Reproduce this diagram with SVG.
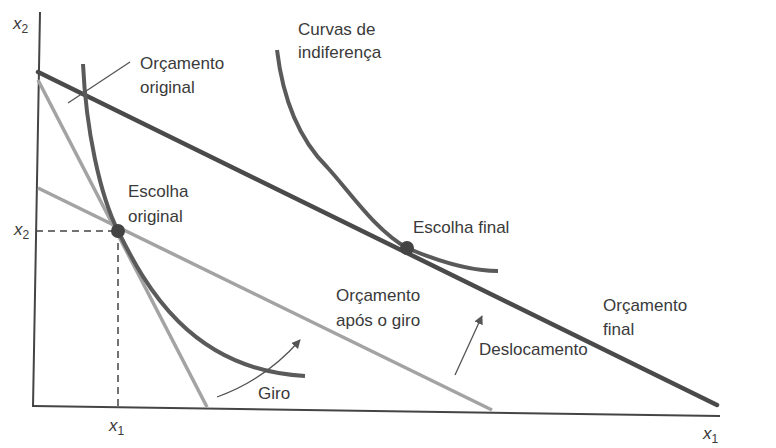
<svg xmlns="http://www.w3.org/2000/svg" width="776" height="448" viewBox="0 0 776 448">
<defs>
<style>
.t{font-family:"Liberation Sans",Arial,sans-serif;font-size:17px;fill:#3a3a3a}
.v{font-family:"Liberation Sans",Arial,sans-serif;font-size:17px;font-style:italic;fill:#3a3a3a}
.sub{font-size:12px;font-style:normal}
.axis{stroke:#444;stroke-width:2;fill:none}
.dark{stroke:#4a4a4a;stroke-width:4.5;fill:none;stroke-linecap:round}
.light{stroke:#a3a3a3;stroke-width:3.5;fill:none}
.ind{stroke:#5a5a5a;stroke-width:4;fill:none}
.thin{stroke:#555;stroke-width:1.3;fill:none}
.dash{stroke:#444;stroke-width:1.5;stroke-dasharray:7,5;fill:none}
</style>
<marker id="ah" viewBox="0 0 10 10" refX="9" refY="5" markerWidth="9" markerHeight="9" orient="auto" markerUnits="userSpaceOnUse">
<path d="M0,0 L10,5 L0,10 z" fill="#555"/>
</marker>
</defs>
<rect width="776" height="448" fill="#fff"/>
<g id="axes">
<path class="axis" d="M40,12 L33,407"/>
<path class="axis" d="M33,406 L720,416"/>
</g>
<g id="connectors">
<path class="light" d="M38,80 L207,407"/>
<path class="light" d="M38,188 L492,410"/>
<path class="dark" d="M38,72 L717,405"/>
<path class="ind" d="M83,64 C86,130 100,195 118,231 C145,285 190,370 305,376"/>
<path class="ind" d="M277,50 C283,100 300,140 327,167 C350,192 375,230 407,248 C440,262 470,271 498,271"/>
<path class="dash" d="M36,231 L118,231 M118,231 L118,407"/>
<path class="thin" d="M68,103 L130,62"/>
<path class="thin" d="M217,397 Q265,380 300,340" marker-end="url(#ah)"/>
<path class="thin" d="M455,375 L482,316" marker-end="url(#ah)"/>
</g>
<g id="escolha-original">
<circle cx="118" cy="231" r="7" fill="#444"/>
<text class="t" x="128" y="197">Escolha</text>
<text class="t" x="128" y="222">original</text>
</g>
<g id="escolha-final">
<circle cx="407" cy="248" r="7" fill="#444"/>
<text class="t" x="413" y="233">Escolha final</text>
</g>
<g id="labels">
<text class="v" x="13" y="29">x<tspan class="sub" dy="4">2</tspan></text>
<text class="v" x="14" y="235">x<tspan class="sub" dy="4">2</tspan></text>
<text class="v" x="109" y="431">x<tspan class="sub" dy="4">1</tspan></text>
<text class="v" x="703" y="439">x<tspan class="sub" dy="4">1</tspan></text>
<text class="t" x="140" y="69">Orçamento</text>
<text class="t" x="140" y="93">original</text>
<text class="t" x="298" y="35">Curvas de</text>
<text class="t" x="298" y="58">indiferença</text>
<text class="t" x="336" y="301">Orçamento</text>
<text class="t" x="336" y="326">após o giro</text>
<text class="t" x="603" y="311">Orçamento</text>
<text class="t" x="603" y="335">final</text>
<text class="t" x="479" y="355">Deslocamento</text>
<text class="t" x="258" y="399">Giro</text>
</g>
</svg>
